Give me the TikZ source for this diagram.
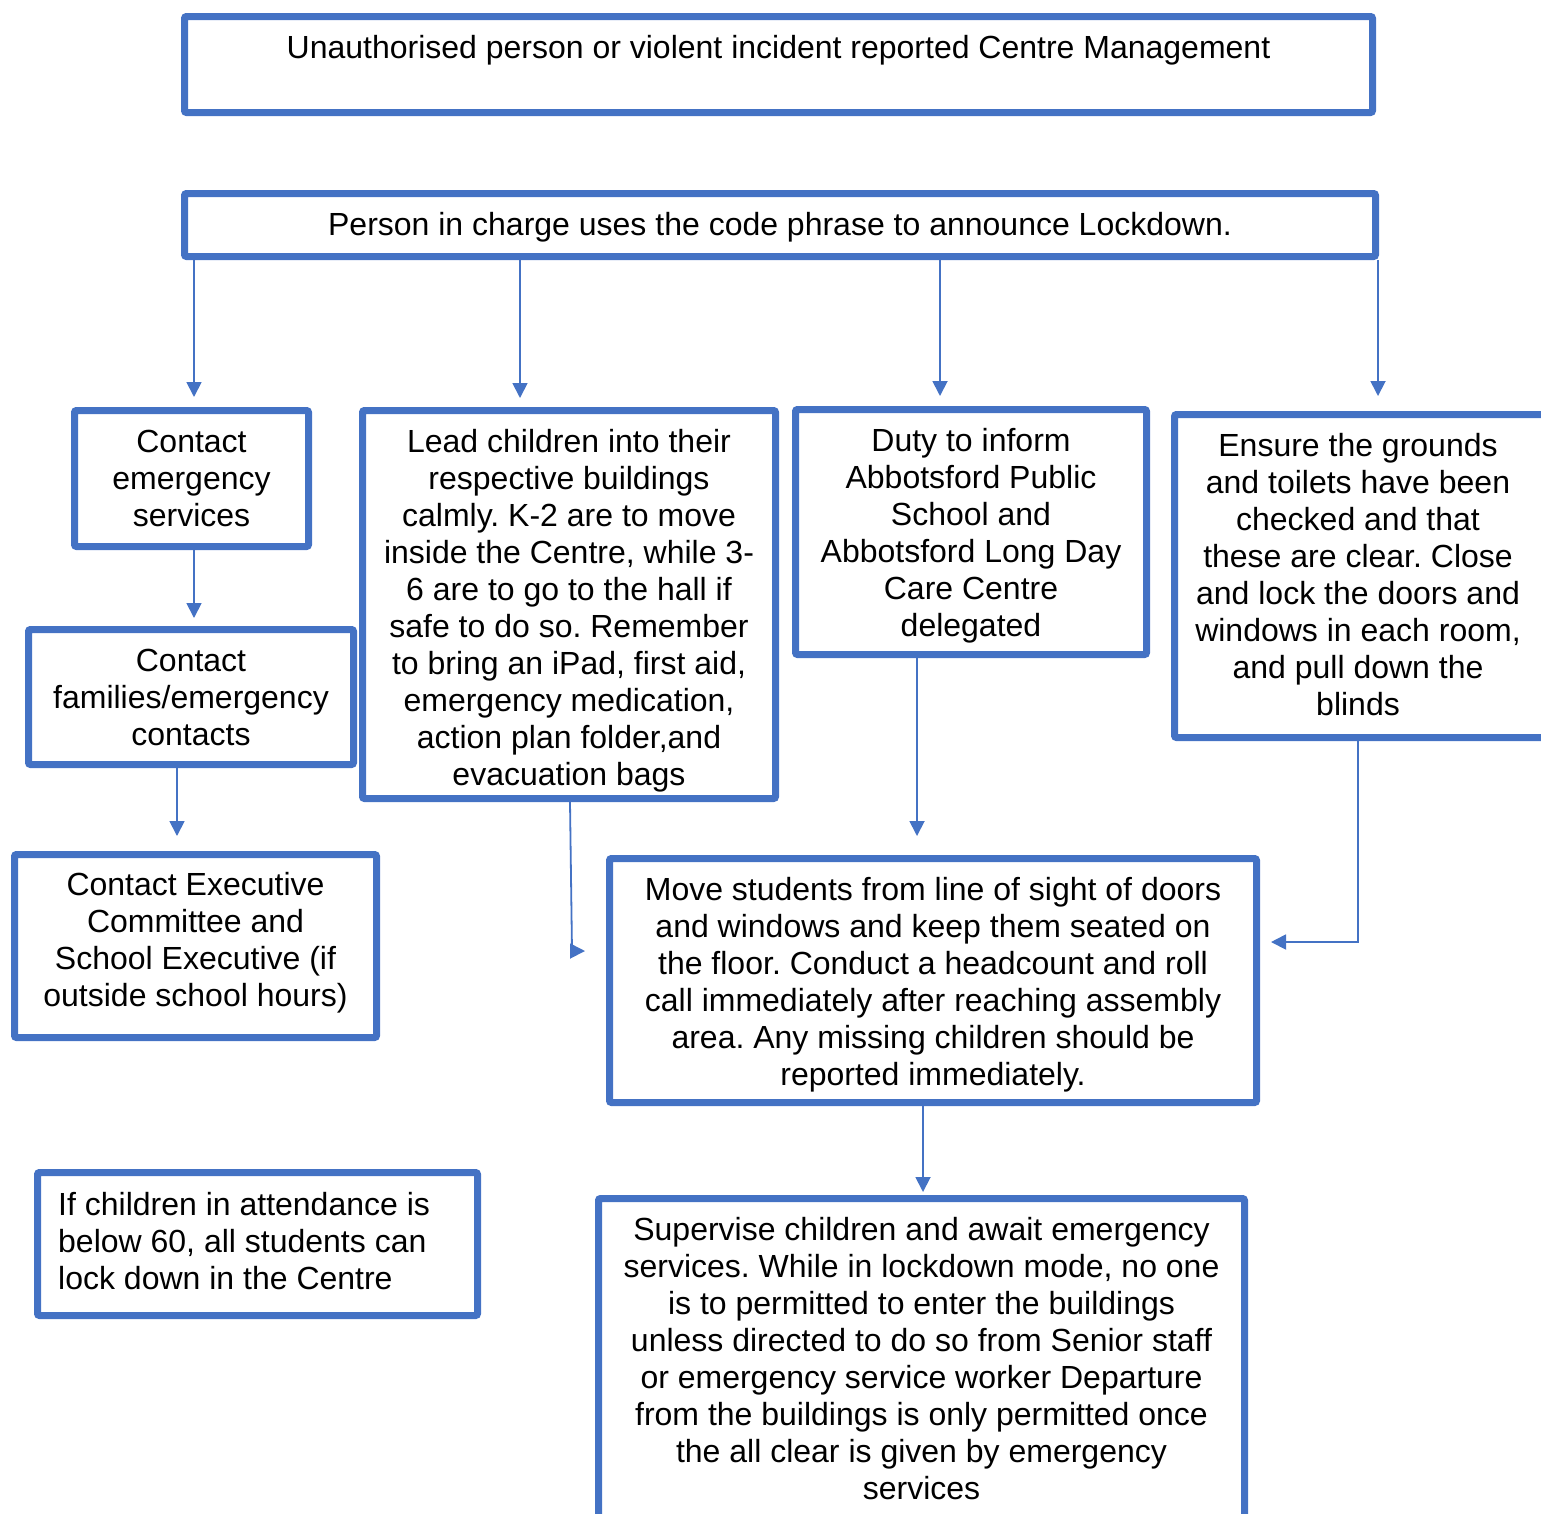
\documentclass[tikz,border=0pt]{standalone}
\usepackage{fontspec}
\setmainfont{Liberation Sans}
\frenchspacing
\usetikzlibrary{arrows.meta}
\definecolor{boxblue}{HTML}{4472C4}
\begin{document}
\begin{tikzpicture}[x=1pt,y=-1pt,
  box/.style={draw=boxblue,line width=7pt,rounded corners=2pt,inner sep=0pt,anchor=center},
  txt/.style={align=center,font=\fontsize{32}{37}\selectfont,inner sep=0pt,anchor=center},
  conn/.style={draw=boxblue,line width=1.8pt},
  arr/.style={conn,-{Triangle[length=15pt,width=15pt]}}]
\useasboundingbox (0,0) rectangle (1541,1513);
\clip (0,0) rectangle (1541,1513);

% boxes
\node[box,minimum width=1188pt,minimum height=96pt] (b1) at (778.5,64.5) {};
\node[box,minimum width=1191pt,minimum height=63pt] (b2) at (780,225) {};
\node[box,minimum width=234pt,minimum height=136pt] (b3) at (191.5,478.5) {};
\node[box,minimum width=325pt,minimum height=135pt] (b4) at (191,697) {};
\node[box,minimum width=413pt,minimum height=388pt] (b5) at (569,604.5) {};
\node[box,minimum width=351pt,minimum height=245pt] (b6) at (971,532) {};
\node[box,minimum width=382pt,minimum height=323pt] (b7) at (1365.5,576) {};
\node[box,minimum width=362pt,minimum height=183pt] (b8) at (195.5,946) {};
\node[box,minimum width=647pt,minimum height=244pt] (b9) at (933,980.5) {};
\node[box,minimum width=440pt,minimum height=143pt] (b10) at (257.5,1244) {};
\node[box,minimum width=646pt,minimum height=323pt] (b11) at (921.5,1360) {};

% texts
\node[txt] (t1) at (778.5,50)
  {Unauthorised person or violent incident reported Centre Management};
\node[txt] (t2) at (780,227)
  {Person in charge uses the code phrase to announce Lockdown.};
\node[txt] (t3) at (191.5,478.5) {Contact\\emergency\\services};
\node[txt] (t4) at (191,697) {Contact\\families/emergency\\contacts};
\node[txt] (t5) at (569,610.5)
  {Lead children into their\\respective buildings\\calmly. K-2 are to move\\inside the Centre, while 3-\\6 are to go to the hall if\\safe to do so. Remember\\to bring an iPad, first aid,\\emergency medication,\\action plan folder,and\\evacuation bags};
\node[txt] (t6) at (971,536)
  {Duty to inform\\Abbotsford Public\\School and\\Abbotsford Long Day\\Care Centre\\delegated};
\node[txt] (t7) at (1358,575)
  {Ensure the grounds\\and toilets have been\\checked and that\\these are clear. Close\\and lock the doors and\\windows in each room,\\and pull down the\\blinds};
\node[txt] (t8) at (195.5,943)
  {Contact Executive\\Committee and\\School Executive (if\\outside school hours)};
\node[txt] (t9) at (933,984.5)
  {Move students from line of sight of doors\\and windows and keep them seated on\\the floor. Conduct a headcount and roll\\call immediately after reaching assembly\\area. Any missing children should be\\reported immediately.};
\node[txt,align=left,anchor=west] (t10) at (58,1241.5)
  {If children in attendance is\\below 60, all students can\\lock down in the Centre};
\node[txt] (t11) at (921.5,1359)
  {Supervise children and await emergency\\services. While in lockdown mode, no one\\is to permitted to enter the buildings\\unless directed to do so from Senior staff\\or emergency service worker Departure\\from the buildings is only permitted once\\the all clear is given by emergency\\services};

% connector columns
\coordinate (x1) at (194,0);
\coordinate (x2) at (520,0);
\coordinate (x3) at (940,0);
\coordinate (x4) at (1378,0);
\coordinate (x6) at (177,0);
\coordinate (x8) at (917,0);
\coordinate (x9) at (1358,0);
\coordinate (x10) at (923,0);
\coordinate (k7a) at (570,0);
\coordinate (k7) at (572,951);
\coordinate (k7e) at (585,951);
\coordinate (k9) at (1358,942);

\draw[arr,shorten >=10pt] (x1 |- b2.south) -- (x1 |- b3.north);
\draw[arr,shorten >=9pt] (x2 |- b2.south) -- (x2 |- b5.north);
\draw[arr,shorten >=10pt] (x3 |- b2.south) -- (x3 |- b6.north);
\draw[arr,shorten >=15pt] (x4 |- b2.south) -- (x4 |- b7.north);
\draw[arr,shorten >=8pt] (x1 |- b3.south) -- (x1 |- b4.north);
\draw[arr,shorten >=15pt] (x6 |- b4.south) -- (x6 |- b8.north);
\draw[conn] (k7a |- b5.south) -- (k7);
\draw[arr] (k7) -- (k7e);
\draw[arr,shorten >=19pt] (x8 |- b6.south) -- (x8 |- b9.north);
\draw[arr,shorten >=11pt] (x9 |- b7.south) -- (k9) -- (k9 -| b9.east);
\draw[arr,shorten >=3pt] (x10 |- b9.south) -- (x10 |- b11.north);
\end{tikzpicture}
\end{document}
